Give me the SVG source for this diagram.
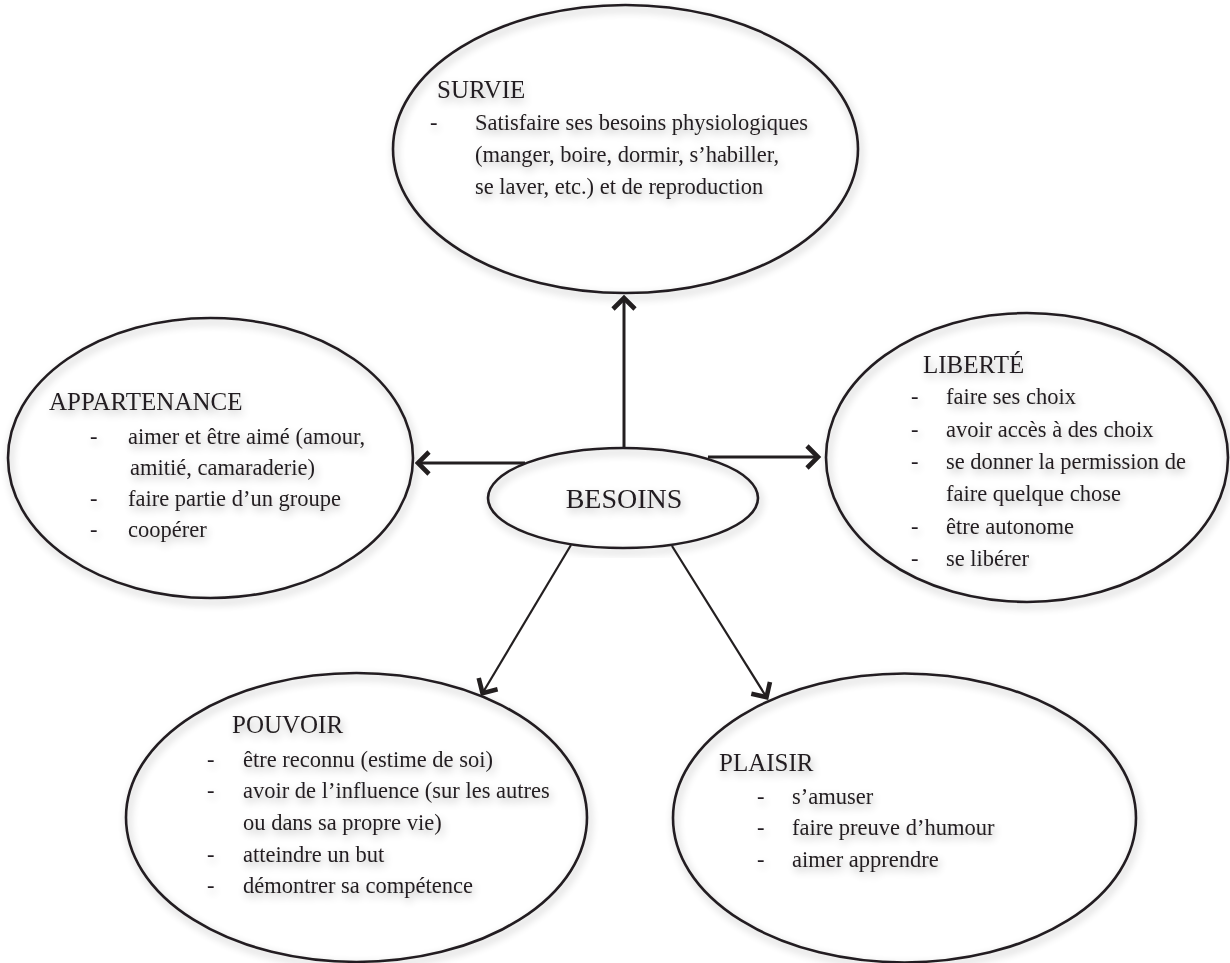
<svg xmlns="http://www.w3.org/2000/svg" width="1230" height="963" viewBox="0 0 1230 963">
<style>
  .node ellipse { fill: none; stroke: #231f20; stroke-width: 2.6; }
  .t { font-family: "Liberation Serif", "DejaVu Serif", serif; font-size: 22.5px; fill: #231f20; }
  .h { font-family: "Liberation Serif", "DejaVu Serif", serif; font-size: 25px; fill: #231f20; }
  .big { font-family: "Liberation Serif", "DejaVu Serif", serif; font-size: 28px; fill: #231f20; }
  .conn line { stroke: #231f20; fill: none; }
  .thick { stroke-width: 3; }
  .thin { stroke-width: 2.2; }
</style>
<defs>
  <filter id="sh" x="-10%" y="-10%" width="120%" height="120%">
    <feGaussianBlur in="SourceAlpha" stdDeviation="4"/>
    <feOffset dx="2" dy="4"/>
    <feComponentTransfer><feFuncA type="linear" slope="0.3"/></feComponentTransfer>
    <feMerge><feMergeNode/><feMergeNode in="SourceGraphic"/></feMerge>
  </filter>
  <marker id="arr" markerUnits="userSpaceOnUse" viewBox="-16 -14 20 28" refX="0" refY="0" markerWidth="20" markerHeight="28" orient="auto" overflow="visible">
    <path d="M-12,-11 L-1,0 L-12,11" fill="none" stroke="#231f20" stroke-width="4.6" stroke-linejoin="miter"/>
  </marker>
</defs>
<rect width="1230" height="963" fill="#ffffff"/>

<g id="connectors" class="conn">
  <line class="thick" x1="624" y1="448" x2="624" y2="297" marker-end="url(#arr)"/>
  <line class="thick" x1="525" y1="463" x2="417" y2="463" marker-end="url(#arr)"/>
  <line class="thick" x1="708" y1="457" x2="819" y2="457" marker-end="url(#arr)"/>
  <line class="thin" x1="571" y1="545" x2="482" y2="694" marker-end="url(#arr)"/>
  <line class="thin" x1="672" y1="546" x2="767" y2="698" marker-end="url(#arr)"/>
</g>

<g id="survie" class="node" filter="url(#sh)">
  <ellipse cx="625.5" cy="149" rx="232.5" ry="144"/>
  <text class="h" x="437" y="98">SURVIE</text>
  <text class="t" x="430" y="130">-</text>
  <text class="t" x="475" y="130">Satisfaire ses besoins physiologiques</text>
  <text class="t" x="475" y="162">(manger, boire, dormir, s’habiller,</text>
  <text class="t" x="475" y="194">se laver, etc.) et de reproduction</text>
</g>

<g id="appartenance" class="node" filter="url(#sh)">
  <ellipse cx="210.5" cy="458" rx="202.5" ry="140"/>
  <text class="h" x="49" y="410">APPARTENANCE</text>
  <text class="t" x="90" y="444">-</text>
  <text class="t" x="128" y="444">aimer et être aimé (amour,</text>
  <text class="t" x="130" y="475">amitié, camaraderie)</text>
  <text class="t" x="90" y="506">-</text>
  <text class="t" x="128" y="506">faire partie d’un groupe</text>
  <text class="t" x="90" y="537">-</text>
  <text class="t" x="128" y="537">coopérer</text>
</g>

<g id="liberte" class="node" filter="url(#sh)">
  <ellipse cx="1027" cy="457.5" rx="201" ry="144.5"/>
  <text class="h" x="923" y="373">LIBERTÉ</text>
  <text class="t" x="911" y="404">-</text>
  <text class="t" x="946" y="404">faire ses choix</text>
  <text class="t" x="911" y="437">-</text>
  <text class="t" x="946" y="437">avoir accès à des choix</text>
  <text class="t" x="911" y="469">-</text>
  <text class="t" x="946" y="469">se donner la permission de</text>
  <text class="t" x="946" y="501">faire quelque chose</text>
  <text class="t" x="911" y="534">-</text>
  <text class="t" x="946" y="534">être autonome</text>
  <text class="t" x="911" y="566">-</text>
  <text class="t" x="946" y="566">se libérer</text>
</g>

<g id="besoins" class="node" filter="url(#sh)">
  <ellipse cx="623" cy="498" rx="135" ry="50"/>
  <text class="big" x="624" y="508" text-anchor="middle">BESOINS</text>
</g>

<g id="pouvoir" class="node" filter="url(#sh)">
  <ellipse cx="356.5" cy="817.5" rx="230.5" ry="144.5"/>
  <text class="h" x="232" y="733">POUVOIR</text>
  <text class="t" x="207" y="767">-</text>
  <text class="t" x="243" y="767">être reconnu (estime de soi)</text>
  <text class="t" x="207" y="798">-</text>
  <text class="t" x="243" y="798">avoir de l’influence (sur les autres</text>
  <text class="t" x="243" y="830">ou dans sa propre vie)</text>
  <text class="t" x="207" y="862">-</text>
  <text class="t" x="243" y="862">atteindre un but</text>
  <text class="t" x="207" y="893">-</text>
  <text class="t" x="243" y="893">démontrer sa compétence</text>
</g>

<g id="plaisir" class="node" filter="url(#sh)">
  <ellipse cx="904.5" cy="818" rx="231.5" ry="144.5"/>
  <text class="h" x="719" y="771">PLAISIR</text>
  <text class="t" x="757" y="804">-</text>
  <text class="t" x="792" y="804">s’amuser</text>
  <text class="t" x="757" y="835">-</text>
  <text class="t" x="792" y="835">faire preuve d’humour</text>
  <text class="t" x="757" y="867">-</text>
  <text class="t" x="792" y="867">aimer apprendre</text>
</g>
</svg>
